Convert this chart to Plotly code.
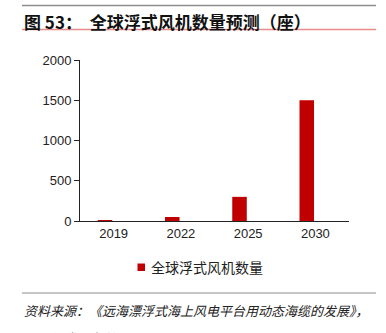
import plotly.graph_objects as go

years = ["2019", "2022", "2025", "2030"]
turbines = [6, 50, 300, 1500]
y_ticks = [0, 500, 1000, 1500, 2000]
series_name = "全球浮式风机数量"

W, H = 386, 333
L, R, T, B = 80, 37, 60, 112
pw, ph = W - L - R, H - T - B
BAR_RED = "#c00000"

def px_x(x):
    return (x - L) / pw

def px_y(y):
    return (H - B - y) / ph

fig = go.Figure()
fig.add_trace(go.Bar(
    x=years, y=turbines, name=series_name,
    marker=dict(color=BAR_RED, line=dict(width=0)),
    width=0.216, offset=-0.236, showlegend=False,
))

cjk = "Noto Sans CJK SC"
fig.update_layout(
    width=W, height=H,
    margin=dict(l=L, r=R, t=T, b=B),
    paper_bgcolor="white", plot_bgcolor="white",
    xaxis=dict(type="category", showline=True, linecolor="#222", linewidth=1,
               ticks="", showgrid=False,
               tickfont=dict(family="Liberation Sans", size=13, color="#222")),
    yaxis=dict(range=[0, 2000], tickvals=y_ticks, showline=True, linecolor="#222",
               linewidth=1, ticks="outside", ticklen=5, tickcolor="#222",
               showgrid=False, zeroline=False,
               tickfont=dict(family="Liberation Sans", size=13, color="#222")),
)

shapes = [
    dict(type="line", xref="paper", yref="paper", x0=px_x(22), x1=px_x(376),
         y0=px_y(5.5), y1=px_y(5.5), line=dict(color="#8c8c8c", width=1.5)),
    dict(type="line", xref="paper", yref="paper", x0=px_x(22), x1=px_x(376),
         y0=px_y(29.5), y1=px_y(29.5), line=dict(color="#e88a8a", width=1.5)),
    dict(type="line", xref="paper", yref="paper", x0=px_x(22), x1=px_x(376),
         y0=px_y(293), y1=px_y(293), line=dict(color="#8c8c8c", width=1)),
    # legend swatch
    dict(type="rect", xref="paper", yref="paper", x0=px_x(137.5), x1=px_x(145),
         y0=px_y(263.5), y1=px_y(271), fillcolor=BAR_RED, line=dict(width=0)),
]
fig.update_layout(shapes=shapes)

fig.add_annotation(text=series_name,
                   xref="paper", yref="paper", x=px_x(149), y=px_y(267),
                   xanchor="left", yanchor="middle", showarrow=False,
                   font=dict(family=cjk, size=14, color="#222"))
fig.add_annotation(text="<b>图 53：  全球浮式风机数量预测（座）</b>",
                   xref="paper", yref="paper", x=px_x(22), y=px_y(21.5),
                   xanchor="left", yanchor="middle", showarrow=False,
                   font=dict(family=cjk, size=17, color="#111"))
fig.add_annotation(text="<i>资料来源：《远海漂浮式海上风电平台用动态海缆的发展》，</i>",
                   xref="paper", yref="paper", x=px_x(22), y=px_y(310),
                   xanchor="left", yanchor="middle", showarrow=False,
                   font=dict(family=cjk, size=13, color="#222"))
fig.add_annotation(text="<i>天风证券研究所</i>",
                   xref="paper", yref="paper", x=px_x(24), y=px_y(337),
                   xanchor="left", yanchor="middle", showarrow=False,
                   font=dict(family=cjk, size=12.5, color="#222"))

fig.write_html("out.html")
